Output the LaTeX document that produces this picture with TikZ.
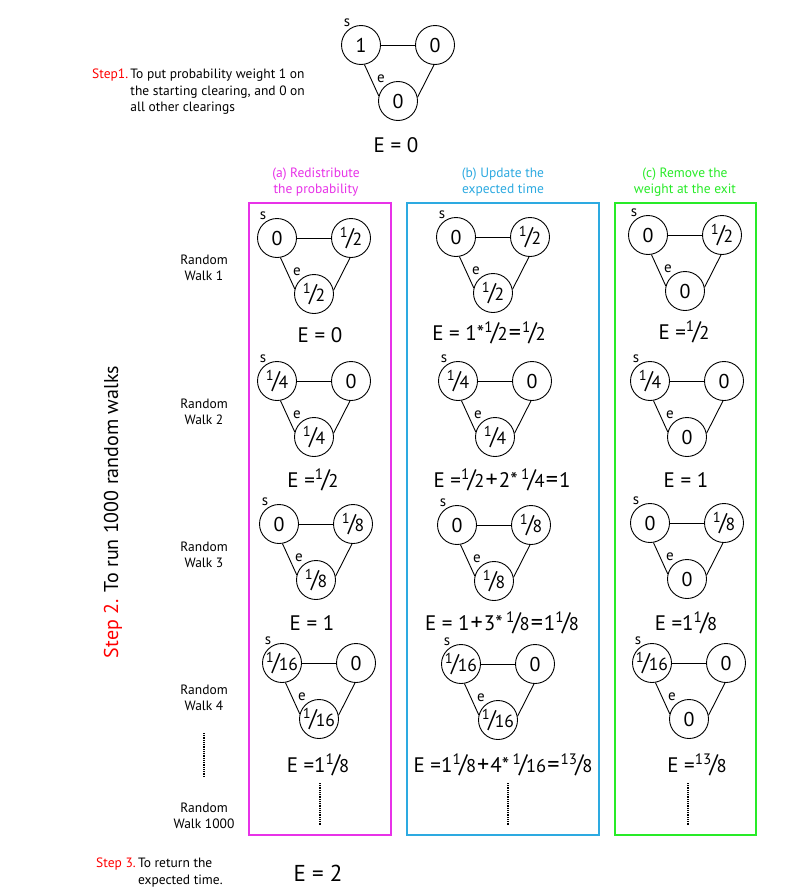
\documentclass[tikz,border=0pt]{standalone}
\usepackage{fontspec}
\setmainfont{PT Sans}
\definecolor{cA}{RGB}{232,50,232}
\definecolor{cB}{RGB}{45,170,225}
\definecolor{cC}{RGB}{40,235,40}
\newcommand\fr[2]{\scalebox{0.72}{\raisebox{0.5em}{#1}}\kern-0.08em\scalebox{1.1}[1.2]{/}\kern-0.06em\scalebox{0.88}{#2}}
\newcommand\tri[6]{%
 \node[clr] (#6l) at (#1,#2) {#3};
 \node[clr] (#6r) at ({#1+74},#2) {#4};
 \node[clr] (#6b) at ({#1+37},{#2+56}) {#5};
 \draw[edge] (#6l) -- (#6r);
 \draw[edge] (#6l.-80) -- (#6b.165);
 \draw[edge] (#6r.-93) -- (#6b.11);
 \node[tag] (#6s) at ({#1-14},{#2-22}) {s};
 \node[tag] (#6e) at ({#1+20},{#2+34}) {e};
}
\newcommand\pl{\kern0.05em\scalebox{1.15}{+}\kern0.05em}
\newcommand\eq{\kern0.05em\scalebox{1.15}{=}\kern0.05em}
\begin{document}
\begin{tikzpicture}[x=1pt,y=-1pt,
 clr/.style={circle,draw,line width=0.9pt,minimum size=39pt,inner sep=0pt,font=\fontsize{20}{20}\selectfont},
 edge/.style={line width=0.9pt},
 tag/.style={inner sep=0pt,font=\fontsize{15}{15}\selectfont},
 elab/.style={inner sep=0pt,font=\fontsize{21}{21}\selectfont},
 small/.style={inner sep=0pt,align=center,font=\fontsize{13.5}{16.5}\selectfont},
 colbox/.style={line width=1.2pt},
 dots/.style={line width=1.3pt,dash pattern=on 0.7pt off 1.1pt}]
\fill[white] (0,0) rectangle (803,894);
\useasboundingbox (0,0) rectangle (803,894);

% Step 1
\node[small,anchor=north west,align=left] (step1) at (92,67) {\begin{tabular}{@{}l@{\,}l@{}}\textcolor{red}{Step1.} & To put probability weight 1 on\\ & the starting clearing, and 0 on\\ & all other clearings\end{tabular}};
\tri{361}{45}{1}{0}{0}{t}
\node[elab] (et) at (396,145) {E = 0};

% headers
\node[small,text=cA] (ha) at (316,182) {(a) Redistribute\\the probability};
\node[small,text=cB] (hb) at (503,182) {(b) Update the\\expected time};
\node[small,text=cC] (hc) at (685,182) {(c) Remove the\\weight at the exit};

% boxes
\draw[colbox,draw=cA] (249,203) rectangle (391,835);
\draw[colbox,draw=cB] (407,203) rectangle (599,835);
\draw[colbox,draw=cC] (615,203) rectangle (756,835);

% row labels
\node[small] (w1) at (204,268) {Random\\Walk 1};
\node[small] (w2) at (204,412) {Random\\Walk 2};
\node[small] (w3) at (204,555) {Random\\Walk 3};
\node[small] (w4) at (204,698) {Random\\Walk 4};
\node[small] (w1000) at (204,816) {Random\\Walk 1000};
\draw[dots] (204,733) -- (204,777);

% Step 2
\node[rotate=90,inner sep=0pt,font=\fontsize{20}{20}\selectfont] (step2) at (113,512) {\textcolor{red}{Step 2.} To run 1000 random walks};

% Row 1
\tri{277}{238}{0}{\fr12}{\fr12}{a1}
\tri{456}{237}{0}{\fr12}{\fr12}{b1}
\tri{648}{235}{0}{\fr12}{0}{c1}
\node[elab] (ea1) at (320,335) {E = 0};
\node[elab] (eb1) at (489,333) {E = 1*\fr12\eq\fr12};
\node[elab] (ec1) at (684,332) {E =\fr12};

% Row 2
\tri{277}{381}{\fr14}{0}{\fr14}{a2}
\tri{458}{381}{\fr14}{0}{\fr14}{b2}
\tri{650}{381}{\fr14}{0}{0}{c2}
\node[elab] (ea2) at (313,480) {E =\fr12};
\node[elab] (eb2) at (502,480) {E =\fr12\pl2*\,\fr14\eq1};
\node[elab] (ec2) at (686,480) {E = 1};

% Row 3
\tri{279}{524}{0}{\fr18}{\fr18}{a3}
\tri{457}{525}{0}{\fr18}{\fr18}{b3}
\tri{650}{523}{0}{\fr18}{0}{c3}
\node[elab] (ea3) at (312,623) {E = 1};
\node[elab] (eb3) at (502,623) {E = 1\pl3*\,\fr18\eq1\fr18};
\node[elab] (ec3) at (686,623) {E =1\fr18};

% Row 4
\tri{282}{663}{\fr1{16}}{0}{\fr1{16}}{a4}
\tri{461}{664}{\fr1{16}}{0}{\fr1{16}}{b4}
\tri{652}{663}{\fr1{16}}{0}{0}{c4}
\node[elab] (ea4) at (318,765) {E =1\fr18};
\node[elab] (eb4) at (503,765) {E =1\fr18\pl4*\,\fr1{16}\eq\fr{13}8};
\node[elab] (ec4) at (697,765) {E =\fr{13}8};

% column dots
\draw[dots] (320,783) -- (320,826);
\draw[dots] (508,783) -- (508,826);
\draw[dots] (688,783) -- (688,826);

% Step 3
\node[small,anchor=north west,align=left] (step3) at (96,856) {\begin{tabular}{@{}l@{\,}l@{}}\textcolor{red}{Step 3.} & To return the\\ & expected time.\end{tabular}};
\node[elab,font=\fontsize{23}{23}\selectfont] (e2) at (318,873) {E = 2};
\end{tikzpicture}
\end{document}
